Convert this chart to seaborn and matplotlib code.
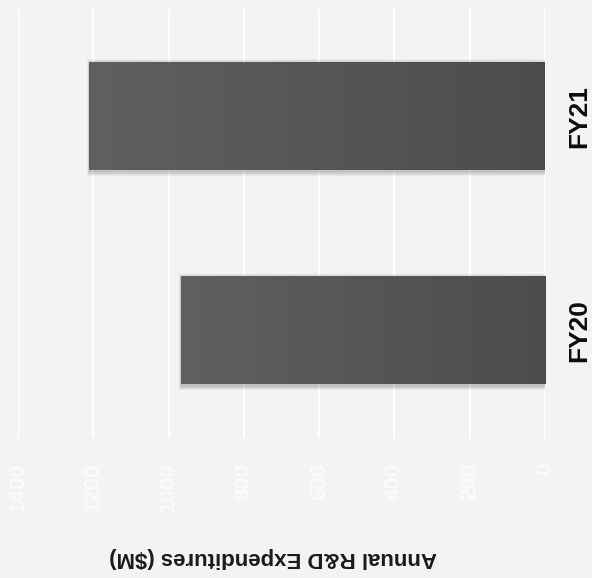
import numpy as np
import pandas as pd
import matplotlib
matplotlib.use("Agg")
import matplotlib.pyplot as plt
from matplotlib.patches import Rectangle
import seaborn as sns

# R&D spend by fiscal year ($M)
years = ["FY21", "FY20"]
spend = [1211, 967]
ticks = [0, 200, 400, 600, 800, 1000, 1200, 1400]
axis_title = "Annual R&D Expenditures ($M)"

BG = "#f3f3f3"
sns.set_theme(style="whitegrid", rc={
    "axes.facecolor": BG,
    "figure.facecolor": BG,
    "grid.color": "white",
    "grid.linewidth": 1.6,
})
plt.rcParams["font.family"] = ["Liberation Sans", "DejaVu Sans"]

df = pd.DataFrame({"year": years, "spend": spend})

fig = plt.figure(figsize=(5.92, 5.78), dpi=100)
ax = fig.add_axes([18 / 592, 1 - 437.5 / 578, 527 / 592, 428.5 / 578])

sns.barplot(data=df, x="spend", y="year", order=years, orient="h",
            width=0.505, color="#555555", ax=ax, zorder=3,
            edgecolor="none", linewidth=0)

ax.set_xlim(1400, 0)
ax.set_ylim(1.5, -0.5)
ax.set_xticks(ticks)
ax.set_xticklabels([str(t) for t in ticks], rotation=90, va="top", ha="center",
                   color="#fbfbfb", fontsize=16, fontweight="bold")
ax.tick_params(axis="x", length=0, pad=18)
ax.grid(axis="y", visible=False)
ax.grid(axis="x", visible=True)
for s in ax.spines.values():
    s.set_visible(False)

ax.yaxis.tick_right()
ax.set_ylabel("")
for lab in ax.get_yticklabels():
    lab.set_rotation(90)
    lab.set_va("center")
    lab.set_ha("left")
    lab.set_fontsize(19)
    lab.set_fontweight("bold")
    lab.set_color("#0d0d0d")
ax.tick_params(axis="y", length=0, pad=16)

ax.set_xlabel(axis_title, rotation=180, fontsize=16, fontweight="bold",
              color="#1a1a1a", va="center", ha="center")
ax.xaxis.set_label_coords(0.484, -0.281)

# pixel size in data units, for the soft drop shadow
fig.canvas.draw()
inv = ax.transData.inverted()
p0 = inv.transform((0, 0))
p1 = inv.transform((1, 1))
dx = abs(p1[0] - p0[0])
dy = abs(p1[1] - p0[1])

grad = np.linspace(0, 1, 256)[None, :]
cmap = matplotlib.colors.LinearSegmentedColormap.from_list(
    "bar", ["#606060", "#4c4c4c"])

for patch in list(ax.patches):
    x0, y0 = patch.get_x(), patch.get_y()
    w, h = patch.get_width(), patch.get_height()
    left, right = max(x0, x0 + w), min(x0, x0 + w)
    top, bot = min(y0, y0 + h), max(y0, y0 + h)
    # shadow, offset slightly downward
    for k in range(1, 7):
        ax.add_patch(Rectangle((right - k * dx * 0.3, top - (k * 0.7 - 1.5) * dy),
                               (left - right) + k * dx * 0.6,
                               (bot - top) + (k * 1.4) * dy,
                               facecolor="black", alpha=0.035, lw=0, zorder=2))
    im = ax.imshow(grad, cmap=cmap, aspect="auto",
                   extent=[left, right, bot, top], zorder=4, interpolation="bilinear")
    im.set_clip_path(patch)

ax.set_xlim(1400, 0)
ax.set_ylim(1.5, -0.5)

fig.savefig("out.png", dpi=100, facecolor=BG)
